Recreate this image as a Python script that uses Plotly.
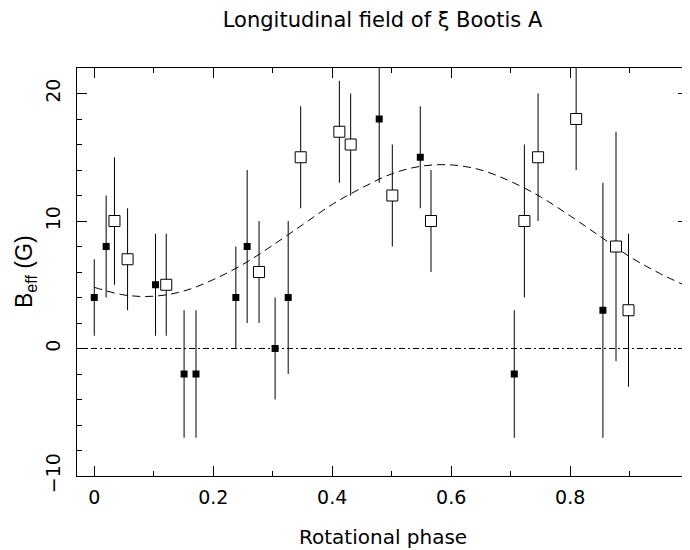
#Longitudinal field of xi Bootis A versus rotational phase

import plotly.graph_objects as go

#Filled squares
filledPhase = [0.000, 0.020, 0.103, 0.151, 0.171, 0.238, 0.257, 0.304, 0.326, 0.479, 0.548, 0.706, 0.855]
filledB = [4, 8, 5, -2, -2, 4, 8, 0, 4, 18, 15, -2, 3]
filledErr = [3, 4, 4, 5, 5, 4, 6, 4, 6, 5, 4, 5, 10]

#Open squares
openPhase = [0.034, 0.056, 0.121, 0.277, 0.347, 0.412, 0.431, 0.501, 0.566, 0.723, 0.746, 0.810, 0.877, 0.898]
openB = [10, 7, 5, 6, 15, 17, 16, 12, 10, 10, 15, 18, 8, 3]
openErr = [5, 4, 4, 4, 4, 4, 4, 4, 4, 6, 5, 4, 9, 6]

#Dashed fit curve
curvePhase = [0.00, 0.05, 0.10, 0.15, 0.20, 0.25, 0.30, 0.35, 0.40, 0.45, 0.50,
              0.55, 0.60, 0.65, 0.70, 0.75, 0.80, 0.85, 0.90, 0.95, 1.00]
curveB = [4.8, 4.2, 4.1, 4.5, 5.4, 6.6, 8.1, 9.7, 11.3, 12.6, 13.7,
          14.3, 14.4, 14.0, 13.1, 11.9, 10.4, 8.8, 7.2, 5.9, 4.8]

#Tick labels
xTicks = [0, 0.2, 0.4, 0.6, 0.8]
xTickText = ['0', '0.2', '0.4', '0.6', '0.8']
yTicks = [-10, 0, 10, 20]

font = 'DejaVu Sans'

fig = go.Figure()

fig.add_hline(y=0, line=dict(color='black', width=1, dash='6px,3px,2px,3px'))

fig.add_trace(go.Scatter(x=curvePhase, y=curveB, mode='lines', line_shape='spline',
                         line=dict(color='black', width=1, dash='8px,5px'), showlegend=False))

fig.add_trace(go.Scatter(x=filledPhase, y=filledB, mode='markers',
                         error_y=dict(type='data', array=filledErr, width=0, thickness=1, color='black'),
                         marker=dict(symbol='square', size=7, color='black'), showlegend=False))

fig.add_trace(go.Scatter(x=openPhase, y=openB, mode='markers',
                         error_y=dict(type='data', array=openErr, width=0, thickness=1, color='black'),
                         marker=dict(symbol='square', size=11, color='white',
                                     line=dict(color='black', width=1)), showlegend=False))

axisStyle = dict(showline=True, linecolor='black', linewidth=1, mirror='ticks',
                 ticks='inside', tickcolor='black', tickwidth=1, ticklen=10,
                 showgrid=False, zeroline=False, automargin=False,
                 tickfont=dict(family=font, size=19, color='black'))

fig.update_xaxes(range=[-0.029, 0.998], tickvals=xTicks, ticktext=xTickText,
                 minor=dict(dtick=0.1, tick0=0, ticks='inside', ticklen=5, tickcolor='black'),
                 ticklabelstandoff=4, **axisStyle)

fig.update_yaxes(range=[-10, 22], tickvals=yTicks, tickangle=-90,
                 minor=dict(dtick=2, tick0=0, ticks='inside', ticklen=5, tickcolor='black'),
                 ticklabelstandoff=8, **axisStyle)

#Axis titles placed as annotations
fig.add_annotation(text='Rotational phase', xref='paper', yref='paper', x=0.5, y=-61 / 408,
                   yanchor='middle', showarrow=False,
                   font=dict(family=font, size=20, color='black'))
fig.add_annotation(text='B<sub>eff</sub> (G)', xref='paper', yref='paper', x=-52 / 611, y=0.5,
                   xanchor='center', yanchor='middle', textangle=-90, showarrow=False,
                   font=dict(family='Liberation Sans', size=23, color='black'))

#The page body has an 8px margin, so the figure is 8px smaller than the window
fig.update_layout(
    width=682, height=542,
    margin=dict(l=69, r=2, t=60, b=74),
    paper_bgcolor='white', plot_bgcolor='white',
    title=dict(text='Longitudinal field of ξ Bootis A', x=0.5, xref='paper',
               y=1 - 12 / 542, yanchor='middle',
               font=dict(family=font, size=21, color='black')),
)

fig.write_html("out.html")
